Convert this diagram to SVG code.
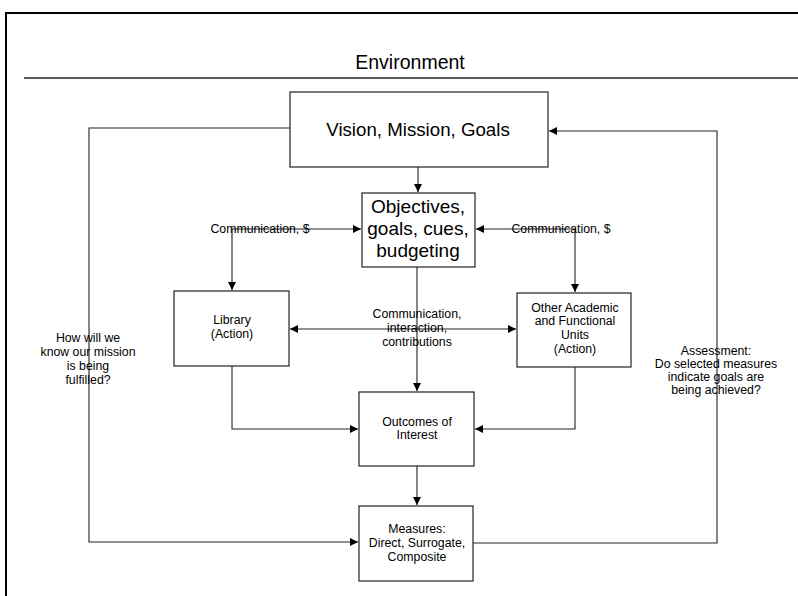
<svg xmlns="http://www.w3.org/2000/svg" width="798" height="596" viewBox="0 0 798 596">
<defs>
<style>
.box{fill:#fff;stroke:#222;stroke-width:1.2}
.ln{fill:none;stroke:#222;stroke-width:1.1}
text{font-family:"Liberation Sans",Arial,sans-serif;fill:#000;text-anchor:middle}
.big{font-size:19px}
.sm{font-size:12.3px}
.lbl{font-size:12.3px}
</style>
<marker id="ah" viewBox="0 0 10 10" refX="10" refY="5" markerWidth="8" markerHeight="8" markerUnits="userSpaceOnUse" orient="auto-start-reverse">
<path d="M0,0 L10,5 L0,10 z" fill="#000"/>
</marker>
</defs>
<rect width="798" height="596" fill="#fff"/>
<g id="frame">
<path d="M6,600 V13 H800" fill="none" stroke="#000" stroke-width="2"/>
<line x1="24" y1="78" x2="798" y2="78" stroke="#222" stroke-width="1.5"/>
<text x="410" y="69" style="font-size:19.5px">Environment</text>
</g>
<g id="connectors">
<line class="ln" x1="418" y1="167" x2="418" y2="192" marker-end="url(#ah)"/>
<polyline class="ln" points="232,290 232,229 361,229" marker-start="url(#ah)" marker-end="url(#ah)"/>
<polyline class="ln" points="575,292 575,229 476,229" marker-start="url(#ah)" marker-end="url(#ah)"/>
<line class="ln" x1="290" y1="329" x2="516" y2="329" marker-start="url(#ah)" marker-end="url(#ah)"/>
<line class="ln" x1="417" y1="267" x2="417" y2="391" marker-end="url(#ah)"/>
<polyline class="ln" points="232,366 232,429 358,429" marker-end="url(#ah)"/>
<polyline class="ln" points="575,367 575,429 475,429" marker-end="url(#ah)"/>
<line class="ln" x1="417" y1="466" x2="417" y2="505" marker-end="url(#ah)"/>
<polyline class="ln" points="290,128 89,128 89,542 358,542" marker-end="url(#ah)"/>
<polyline class="ln" points="473,543 717,543 717,131 549,131" marker-end="url(#ah)"/>
<text class="lbl" x="260" y="233">Communication, $</text>
<text class="lbl" x="561" y="233">Communication, $</text>
<text class="lbl" x="417" y="318">Communication,</text>
<text class="lbl" x="417" y="332">interaction,</text>
<text class="lbl" x="417" y="346">contributions</text>
<text class="lbl" x="88" y="342">How will we</text>
<text class="lbl" x="88" y="356">know our mission</text>
<text class="lbl" x="88" y="370">is being</text>
<text class="lbl" x="88" y="384">fulfilled?</text>
<text class="lbl" x="716" y="355">Assessment:</text>
<text class="lbl" x="716" y="368">Do selected measures</text>
<text class="lbl" x="716" y="381">indicate goals are</text>
<text class="lbl" x="716" y="394">being achieved?</text>
</g>
<g id="vision">
<rect class="box" x="290" y="92" width="258" height="75"/>
<text x="418" y="136" style="font-size:18.7px">Vision, Mission, Goals</text>
</g>
<g id="objectives">
<rect class="box" x="362" y="193" width="113" height="74"/>
<text class="big" x="418" y="213">Objectives,</text>
<text class="big" x="418" y="235">goals, cues,</text>
<text class="big" x="418" y="257">budgeting</text>
</g>
<g id="library">
<rect class="box" x="174" y="291" width="115" height="75"/>
<text class="sm" x="232" y="324">Library</text>
<text class="sm" x="232" y="338">(Action)</text>
</g>
<g id="other">
<rect class="box" x="517" y="293" width="114" height="74"/>
<text class="sm" x="575" y="312">Other Academic</text>
<text class="sm" x="575" y="325">and Functional</text>
<text class="sm" x="575" y="339">Units</text>
<text class="sm" x="575" y="353">(Action)</text>
</g>
<g id="outcomes">
<rect class="box" x="359" y="392" width="115" height="74"/>
<text class="sm" x="417" y="426">Outcomes of</text>
<text class="sm" x="417" y="439">Interest</text>
</g>
<g id="measures">
<rect class="box" x="359" y="506" width="114" height="75"/>
<text class="sm" x="417" y="533">Measures:</text>
<text class="sm" x="417" y="547">Direct, Surrogate,</text>
<text class="sm" x="417" y="561">Composite</text>
</g>
</svg>
